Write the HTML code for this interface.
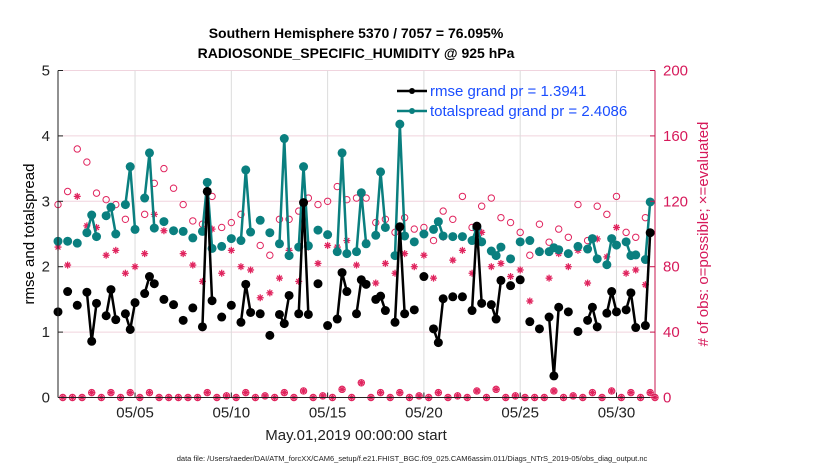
<!DOCTYPE html>
<html><head><meta charset="utf-8"><style>
html,body{margin:0;padding:0;background:#fff;width:830px;height:470px;overflow:hidden;font-family:"Liberation Sans",Arial,sans-serif}
</style></head><body>
<svg id="chart" width="830" height="470" xmlns="http://www.w3.org/2000/svg" font-family="Liberation Sans, Arial, sans-serif">
<rect width="830" height="470" fill="#fff"/>
<text x="356" y="38" font-size="14" font-weight="bold" text-anchor="middle">Southern Hemisphere 5370 / 7057 = 76.095%</text>
<text x="356" y="58" font-size="14" font-weight="bold" text-anchor="middle">RADIOSONDE_SPECIFIC_HUMIDITY @ 925 hPa</text>
<g id="grid"></g>
<g id="marks"></g>
<g id="axes"></g>
<text transform="translate(34,234) rotate(-90)" font-size="15" text-anchor="middle">rmse and totalspread</text>
<text transform="translate(708,234) rotate(-90)" font-size="15" fill="#d6195a" text-anchor="middle"># of obs: o=possible; ×=evaluated</text>
<text x="356" y="440" font-size="15" fill="#222" text-anchor="middle">May.01,2019 00:00:00 start</text>
<text x="412" y="461" font-size="7.5" fill="#222" text-anchor="middle">data file: /Users/raeder/DAI/ATM_forcXX/CAM6_setup/f.e21.FHIST_BGC.f09_025.CAM6assim.011/Diags_NTrS_2019-05/obs_diag_output.nc</text>
<g>
<line x1="397" y1="91" x2="427" y2="91" stroke="#000" stroke-width="2.5"/>
<circle cx="412" cy="91" r="3" fill="#000"/>
<text x="430" y="96" font-size="15" fill="#1a4dff">rmse grand pr = 1.3941</text>
<line x1="397" y1="111" x2="427" y2="111" stroke="#0a7f7f" stroke-width="2.5"/>
<circle cx="412" cy="111" r="3" fill="#0a7f7f"/>
<text x="430" y="116" font-size="15" fill="#1a4dff">totalspread grand pr = 2.4086</text>
</g>
</svg>
<script>
const N=null;
const rmse=[1.31,N,1.62,N,1.41,N,1.61,0.86,1.44,N,1.25,1.65,1.19,N,1.28,1.04,1.45,N,1.59,1.85,1.74,N,1.50,N,1.42,N,1.18,N,1.37,N,1.08,3.15,1.48,N,1.23,N,1.41,N,1.15,1.73,1.30,N,1.28,N,0.95,N,1.27,1.13,1.56,N,1.28,2.98,1.27,N,1.74,N,1.10,N,1.20,1.91,1.62,N,1.28,1.80,1.73,N,1.50,1.55,1.33,N,1.15,2.61,1.28,N,1.34,N,1.85,N,1.05,0.84,1.51,N,1.54,N,1.54,N,1.33,2.62,1.44,N,1.42,1.20,1.79,N,1.71,N,1.80,N,1.16,N,1.05,N,1.23,0.33,1.38,N,1.31,N,1.01,N,1.18,1.38,1.08,N,1.29,1.62,1.31,N,1.34,1.60,1.07,N,1.10,2.52,N];
const spread=[2.39,N,2.39,N,2.36,N,2.52,2.79,2.46,N,2.78,2.91,2.50,N,2.95,3.53,2.57,N,3.05,3.74,2.59,N,2.69,N,2.55,N,2.54,N,2.44,N,2.54,3.29,2.28,N,2.31,N,2.43,N,2.40,3.48,2.53,N,2.71,N,2.52,N,2.35,3.96,2.17,N,2.30,3.53,2.32,N,2.56,N,2.49,N,2.23,3.74,2.20,N,2.23,3.13,2.35,N,2.48,3.45,2.60,N,2.17,4.18,2.47,N,2.38,N,2.50,N,2.57,2.69,2.47,N,2.46,N,2.46,N,2.40,2.59,2.38,N,2.24,2.17,2.30,N,2.12,N,2.38,N,2.40,N,2.23,N,2.23,2.29,2.26,N,2.20,N,2.31,N,2.27,2.43,2.12,N,2.03,2.43,2.33,N,2.38,2.17,2.18,N,2.11,2.99,N];
const possible=[118,0,126,0,152,0,144,3,125,0,121,3,118,0,109,3,103,0,112,3,131,0,140,0,128,0,118,0,108,0,106,3,123,0,104,1,107,0,112,3,101,0,93,1,87,0,109,3,109,0,114,4,122,0,118,1,120,0,129,5,121,0,122,9,122,0,107,3,109,0,101,3,110,0,103,1,104,0,96,3,114,0,109,1,123,0,104,4,117,0,122,5,110,0,107,1,101,0,87,0,106,0,95,4,103,0,98,1,118,0,96,3,117,0,112,4,123,0,101,3,98,0,110,3,0];
const evaluated=[92,0,81,0,123,0,105,3,104,0,87,3,90,0,76,3,80,0,88,3,112,0,102,0,102,0,88,0,81,0,71,3,103,0,76,1,90,0,80,3,78,0,61,1,64,0,73,3,90,0,71,4,92,0,82,1,93,0,92,5,96,0,81,9,95,0,70,3,82,0,76,3,88,0,80,1,87,0,73,3,98,0,84,1,90,0,76,4,101,0,80,5,82,0,74,1,78,0,59,0,90,0,73,4,88,0,80,1,90,0,70,3,97,0,86,4,104,0,76,3,78,0,69,3,0];
const xTickDays=[4,9,14,19,24,29];
const xTickLabels=["05/05","05/10","05/15","05/20","05/25","05/30"];
const yTicks=[0,1,2,3,4,5];
const rTicks=[0,40,80,120,160,200];

const X0=58,X1=655,Y0=397.5,Y1=70.5;
const xs=d=>X0+(d/31)*(X1-X0);
const yl=v=>Y0-(v/5)*(Y0-Y1);
const yr=v=>Y0-(v/200)*(Y0-Y1);
const NS="http://www.w3.org/2000/svg";
function mk(tag,attrs,parent){const e=document.createElementNS(NS,tag);for(const k in attrs)e.setAttribute(k,attrs[k]);parent.appendChild(e);return e;}
const grid=document.getElementById('grid'),marks=document.getElementById('marks'),axes=document.getElementById('axes');

yTicks.forEach(v=>{const l=mk('line',{x1:X0,x2:X1,y1:yl(v),y2:yl(v),stroke:'#f0d4de','stroke-width':1},grid);

});
xTickDays.forEach(d=>{const l=mk('line',{x1:xs(d),x2:xs(d),y1:Y1,y2:Y0,stroke:'#dcdcdc','stroke-width':1},grid);

});

function series(arr,color,name){
  let seg=[];const segs=[];
  arr.forEach((v,i)=>{if(v===null){if(seg.length)segs.push(seg);seg=[];}else seg.push([xs(i/4),yl(v)]);});
  if(seg.length)segs.push(seg);
  segs.forEach(s=>{if(s.length>1){const p=mk('polyline',{points:s.map(q=>q.join(',')).join(' '),fill:'none',stroke:color,'stroke-width':2.5,'stroke-linejoin':'round'},marks);
    
    }});
  arr.forEach((v,i)=>{if(v===null)return;const c=mk('circle',{cx:xs(i/4),cy:yl(v),r:4.5,fill:color},marks);
    
    });
}
possible.forEach((v,i)=>{const c=mk('circle',{cx:xs(i/4),cy:yr(v),r:3.2,fill:'none',stroke:'#e0245e','stroke-width':1},marks);
  
  });
evaluated.forEach((v,i)=>{const x=xs(i/4),y=yr(v),r=3.5;const g=mk('g',{stroke:'#e0245e','stroke-width':1.3},marks);
  
  
  mk('line',{x1:x-r,x2:x+r,y1:y,y2:y},g);mk('line',{x1:x,x2:x,y1:y-r,y2:y+r},g);
  mk('line',{x1:x-r*0.7,x2:x+r*0.7,y1:y-r*0.7,y2:y+r*0.7},g);mk('line',{x1:x-r*0.7,x2:x+r*0.7,y1:y+r*0.7,y2:y-r*0.7},g);});
series(spread,'#0a7f7f','totalspread');
series(rmse,'#000','rmse');

mk('line',{x1:X0,x2:X0,y1:Y1,y2:Y0,stroke:'#222','stroke-width':1},axes);
mk('line',{x1:X0,x2:X1,y1:Y0,y2:Y0,stroke:'#222','stroke-width':1},axes);
mk('line',{x1:X1,x2:X1,y1:Y1,y2:Y0,stroke:'#c8174f','stroke-width':1},axes);
yTicks.forEach(v=>{mk('line',{x1:X0,x2:X0+5,y1:yl(v),y2:yl(v),stroke:'#222'},axes);
  const t=mk('text',{x:X0-8,y:yl(v)+5,'font-size':15,'text-anchor':'end',fill:'#222'},axes);t.textContent=v;
  
  });
rTicks.forEach(v=>{mk('line',{x1:X1-5,x2:X1,y1:yr(v),y2:yr(v),stroke:'#c8174f'},axes);
  const t=mk('text',{x:X1+8,y:yr(v)+5,'font-size':15,fill:'#d6195a'},axes);t.textContent=v;
  
  });
xTickDays.forEach((d,i)=>{mk('line',{x1:xs(d),x2:xs(d),y1:Y0,y2:Y0-5,stroke:'#222'},axes);
  const t=mk('text',{x:xs(d),y:Y0+20,'font-size':15,'text-anchor':'middle',fill:'#222'},axes);t.textContent=xTickLabels[i];
  
  });
</script>
</body></html>
